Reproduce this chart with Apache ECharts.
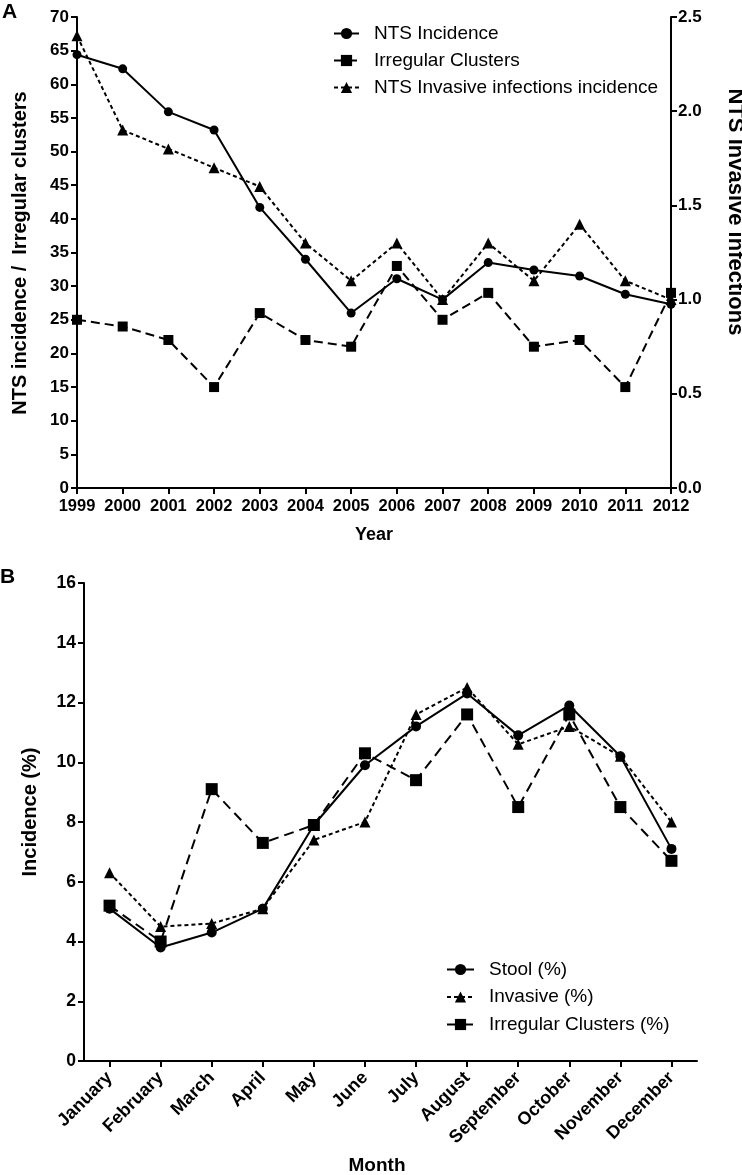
<!DOCTYPE html>
<html>
<head>
<meta charset="utf-8">
<script src="https://cdn.jsdelivr.net/npm/echarts@6/dist/echarts.min.js"></script>
<style>
html,body{margin:0;padding:0;background:#fff;}
#chart{width:742px;height:1175px;}
</style>
</head>
<body>
<div id="chart"></div>
<script>
// ---------- Data ----------
var years = ['1999','2000','2001','2002','2003','2004','2005','2006','2007','2008','2009','2010','2011','2012'];
var ntsIncidence = [64.4, 62.3, 55.9, 53.2, 41.7, 34.0, 26.0, 31.1, 28.0, 33.5, 32.4, 31.5, 28.8, 27.3];
var irregularClusters = [25, 24, 22, 15, 26, 22, 21, 33, 25, 29, 21, 22, 15, 29];
var invasiveIncidence = [2.4, 1.9, 1.8, 1.7, 1.6, 1.3, 1.1, 1.3, 1.0, 1.3, 1.1, 1.4, 1.1, 1.0];

var months = ['January','February','March','April','May','June','July','August','September','October','November','December'];
var stoolPct = [5.1, 3.8, 4.3, 5.1, 7.9, 9.9, 11.2, 12.3, 10.9, 11.9, 10.2, 7.1];
var invasivePct = [6.3, 4.5, 4.6, 5.1, 7.4, 8.0, 11.6, 12.5, 10.6, 11.2, 10.2, 8.0];
var clustersPct = [5.2, 4.0, 9.1, 7.3, 7.9, 10.3, 9.4, 11.6, 8.5, 11.6, 8.5, 6.7];

// ---------- Styling ----------
var FONT = '"Liberation Sans", Arial, Helvetica, sans-serif';
var BLACK = '#000';
var axisLine = {show: true, onZero: false, lineStyle: {color: BLACK, width: 2}};
var axisTick = {show: true, inside: false, length: 6, lineStyle: {color: BLACK, width: 2}};
function lbl(size, extra) {
  return Object.assign({color: BLACK, fontFamily: FONT, fontWeight: 'bold', fontSize: size}, extra || {});
}

var chart = echarts.init(document.getElementById('chart'), null, {renderer: 'canvas'});

function lineSeries(name, data, xi, yi, symbol, size, dash) {
  return {
    name: name, type: 'line', data: data,
    xAxisIndex: xi, yAxisIndex: yi,
    symbol: symbol, symbolSize: size, showSymbol: true,
    animation: false,
    itemStyle: {color: BLACK},
    lineStyle: {color: BLACK, width: 2, type: dash},
    emphasis: {disabled: true}
  };
}

var legendText = {color: BLACK, fontFamily: FONT, fontSize: 19, padding: [0, 0, 0, 10]};

var option = {
  backgroundColor: '#fff',
  animation: false,
  grid: [
    {left: 77, right: 71, top: 17, height: 471, containLabel: false},
    {left: 84, right: 45, top: 583, height: 478, containLabel: false}
  ],
  xAxis: [
    {
      gridIndex: 0, type: 'category', data: years, boundaryGap: false,
      axisLine: axisLine, axisTick: axisTick,
      axisLabel: lbl(16.5, {margin: 10, interval: 0}),
      splitLine: {show: false}
    },
    {
      gridIndex: 1, type: 'category', data: months, boundaryGap: true,
      axisLine: axisLine,
      axisTick: Object.assign({alignWithLabel: true, interval: 0}, axisTick),
      axisLabel: lbl(18, {margin: 14, interval: 0, rotate: 45}),
      splitLine: {show: false}
    }
  ],
  yAxis: [
    {
      gridIndex: 0, type: 'value', min: 0, max: 70, interval: 5, position: 'left',
      axisLine: axisLine, axisTick: axisTick,
      axisLabel: lbl(17, {margin: 8}),
      splitLine: {show: false}
    },
    {
      gridIndex: 0, type: 'value', min: 0, max: 2.5, interval: 0.5, position: 'right',
      axisLine: axisLine, axisTick: axisTick,
      axisLabel: lbl(17, {margin: 7, formatter: function (v) { return v.toFixed(1); }}),
      splitLine: {show: false}
    },
    {
      gridIndex: 1, type: 'value', min: 0, max: 16, interval: 2,
      axisLine: axisLine, axisTick: axisTick,
      axisLabel: lbl(17.5, {margin: 8}),
      splitLine: {show: false}
    }
  ],
  legend: [
    {
      orient: 'vertical', left: 333, top: 24, padding: 0,
      itemWidth: 25, itemHeight: 14, itemGap: 8,
      textStyle: legendText,
      data: ['NTS Incidence', 'Irregular Clusters', 'NTS Invasive infections incidence'],
      selectedMode: false
    },
    {
      orient: 'vertical', left: 446, top: 960, padding: 0,
      itemWidth: 27, itemHeight: 14, itemGap: 8.5,
      textStyle: legendText,
      data: ['Stool (%)', 'Invasive (%)', 'Irregular Clusters (%)'],
      selectedMode: false
    }
  ],
  series: [
    lineSeries('NTS Incidence', ntsIncidence, 0, 0, 'circle', 9, 'solid'),
    lineSeries('Irregular Clusters', irregularClusters, 0, 0, 'rect', 10, [9, 5]),
    lineSeries('NTS Invasive infections incidence', invasiveIncidence, 0, 1, 'triangle', 11, [4, 3]),
    lineSeries('Stool (%)', stoolPct, 1, 2, 'circle', 10, 'solid'),
    lineSeries('Invasive (%)', invasivePct, 1, 2, 'triangle', 11, [4, 3]),
    lineSeries('Irregular Clusters (%)', clustersPct, 1, 2, 'rect', 12, [10, 6])
  ],
  graphic: [
    {type: 'text', left: 2, top: 2, style: {text: 'A', fontFamily: FONT, fontWeight: 'bold', fontSize: 21, fill: BLACK}},
    {type: 'text', left: 0, top: 567, style: {text: 'B', fontFamily: FONT, fontWeight: 'bold', fontSize: 21, fill: BLACK}},
    {type: 'text', x: 20, y: 253, rotation: Math.PI / 2,
      style: {text: 'NTS incidence /  Irregular clusters', fontFamily: FONT, fontWeight: 'bold', fontSize: 20, fill: BLACK, align: 'center', verticalAlign: 'middle'}},
    {type: 'text', x: 735, y: 212, rotation: -Math.PI / 2,
      style: {text: 'NTS Invasive infections', fontFamily: FONT, fontWeight: 'bold', fontSize: 22, fill: BLACK, align: 'center', verticalAlign: 'middle'}},
    {type: 'text', x: 374, y: 535, style: {text: 'Year', fontFamily: FONT, fontWeight: 'bold', fontSize: 18, fill: BLACK, align: 'center', verticalAlign: 'middle'}},
    {type: 'text', x: 30, y: 812, rotation: Math.PI / 2,
      style: {text: 'Incidence (%)', fontFamily: FONT, fontWeight: 'bold', fontSize: 20, fill: BLACK, align: 'center', verticalAlign: 'middle'}},
    {type: 'text', x: 377, y: 1166, style: {text: 'Month', fontFamily: FONT, fontWeight: 'bold', fontSize: 19, fill: BLACK, align: 'center', verticalAlign: 'middle'}}
  ]
};
chart.setOption(option);
</script>
</body>
</html>
